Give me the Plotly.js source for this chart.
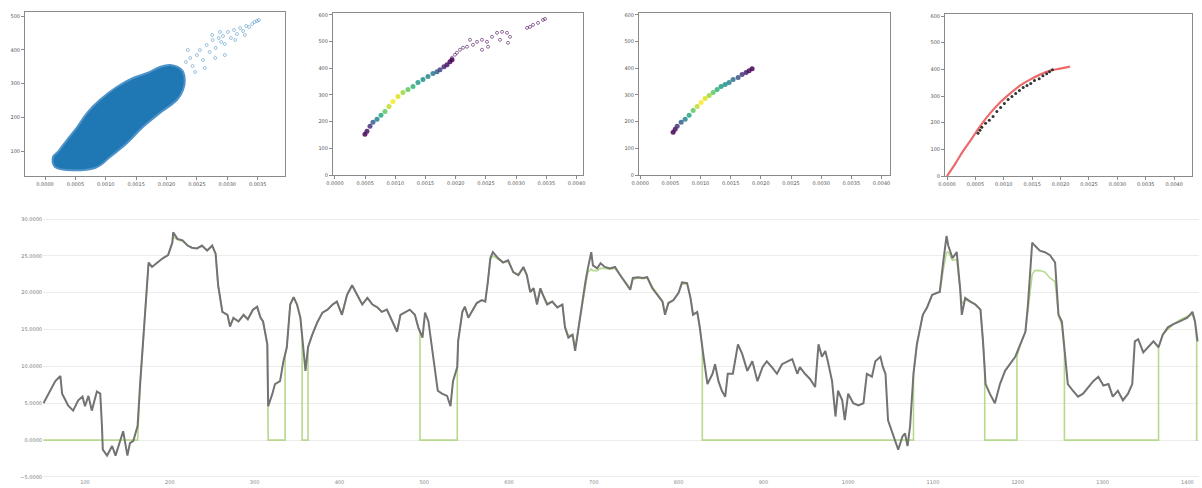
<!DOCTYPE html>
<html>
<head>
<meta charset="utf-8">
<script src="https://cdn.plot.ly/plotly-3.0.1.min.js"></script>
<style>html,body{margin:0;padding:0;background:#fff;}#chart{width:1202px;height:488px;}</style>
</head>
<body>
<div id="chart"></div>
<script>
// ---------- Panel 1: dense scatter (outline of the dense cloud + sparse outliers) ----------
const cloudX = [0.000164,0.000822,0.00107,0.00135,0.00161,0.00189,0.00217,0.00227,0.00230,0.00225,0.00206,0.00189,0.00168,0.00145,0.00118,0.00090,0.00069,0.00053,0.00036,0.00021,0.00013,0.000164];
const cloudY = [52.6,49.6,82.2,123.7,171.1,212.6,251.1,280.7,310.4,340.0,354.8,348.9,331.1,316.3,289.6,251.1,212.6,171.1,132.6,97.0,82.2,52.6];
const sparseX = [0.00232,0.00239,0.00243,0.00250,0.00255,0.00260,0.00266,0.00271,0.00276,0.00281,0.00286,0.00290,0.00293,0.00296,0.00301,0.00306,0.00311,0.00316,0.00321,0.00326,0.00331,0.00336,0.00341,0.00345,0.00349,0.00352,0.00263,0.00247,0.00280,0.00296,0.00275,0.00222,0.00235,0.00288,0.00329,0.00313];
const sparseY = [363.7,375.6,351.9,384.4,399.3,369.6,414.1,393.3,428.9,405.2,434.8,423.0,440.7,417.0,452.6,434.8,458.5,446.7,464.4,455.6,470.4,467.4,476.3,482.2,485.2,488.2,345.9,334.1,375.6,384.4,443.7,325.2,399.3,452.6,443.7,428.9];

// ---------- Panel 2: colour-coded curve + scattered tail ----------
const p2X = [0.000497,0.000530,0.000580,0.000629,0.000696,0.000762,0.000828,0.000894,0.000960,0.001043,0.001126,0.001209,0.001292,0.001374,0.001457,0.001540,0.001623,0.001689,0.001739,0.001805,0.001855,0.001904,0.001938];
const p2Y = [152.8,164.0,182.6,197.5,208.7,223.6,238.5,257.2,275.8,294.4,309.3,320.5,331.7,346.6,357.8,369.0,380.2,387.6,395.1,406.2,413.7,424.9,432.3];
const p2C = [0.0,0.05,0.15,0.3,0.45,0.6,0.75,0.9,1.0,0.95,0.85,0.75,0.65,0.55,0.5,0.45,0.4,0.3,0.2,0.1,0.05,0.02,0.0];
const p2TailX = [0.001938,0.001987,0.002070,0.002186,0.002285,0.002236,0.002352,0.002434,0.002517,0.002600,0.002683,0.002766,0.002848,0.002898,0.002732,0.002865,0.003180,0.003279,0.003362,0.003444,0.003478,0.003229,0.002534,0.002434,0.002020,0.002120];
const p2TailY = [439.8,451.0,469.6,480.8,488.2,506.9,499.4,506.9,499.4,518.1,533.0,536.7,533.0,518.1,506.9,495.7,551.6,562.8,570.2,581.4,585.1,555.3,480.8,469.6,458.4,477.1];

// ---------- Panel 3: filtered curve ----------
const p3X = [0.000546,0.000580,0.000613,0.000679,0.000745,0.000811,0.000878,0.000944,0.001010,0.001076,0.001143,0.001209,0.001275,0.001341,0.001408,0.001474,0.001540,0.001623,0.001689,0.001755,0.001805,0.001855];
const p3Y = [160.3,171.4,182.6,197.5,208.7,223.6,242.3,257.2,272.1,287.0,298.2,309.3,320.5,331.7,339.2,346.6,357.8,365.2,376.4,383.9,391.3,398.8];
const p3C = [0.0,0.05,0.15,0.3,0.45,0.6,0.75,0.9,1.0,0.95,0.85,0.75,0.65,0.55,0.5,0.45,0.35,0.25,0.15,0.08,0.03,0.0];

// ---------- Panel 4: fitted curve ----------
const fitX = [0,0.000141,0.000282,0.000440,0.000581,0.000757,0.000933,0.001109,0.001286,0.001462,0.001638,0.001814,0.001990,0.002166];
const fitY = [0,44.7,93.2,141.6,186.4,234.8,275.8,309.3,339.2,361.5,380.2,395.1,402.5,410.0];

// ---------- Bottom: time series ----------
const seriesT = [
51,59,65,71,73,77,80,86,92,97,100,104,
108,114,118,120,121,126,132,136,142,145,150,153,
157,162,165,169,173,175,179,185,192,198,203,204,
209,215,221,226,232,238,244,250,254,257,262,268,
271,275,281,287,292,298,303,307,310,315,316,321,
324,330,334,338,342,346,350,354,357,360,363,368,
374,380,386,392,397,403,409,415,421,427,433,439,
445,450,456,462,468,472,478,483,489,493,498,501,
505,509,513,516,521,527,531,534,539,540,545,548,
552,557,562,568,572,575,578,581,587,593,599,605,
611,617,621,625,629,633,637,640,645,651,657,663,
666,670,675,678,682,686,690,693,697,699,704,708,
713,719,725,731,737,743,746,752,758,763,769,775,
781,784,788,794,800,804,810,814,817,822,825,829,
834,840,843,847,851,855,858,864,870,875,881,887,
893,899,904,910,916,922,928,934,940,943,949,955,
961,965,969,973,976,981,985,988,993,996,1000,1006,
1012,1018,1022,1028,1032,1038,1041,1044,1047,1052,1055,1059,
1064,1067,1070,1073,1077,1081,1085,1088,1093,1099,1105,1108,
1112,1116,1118,1123,1128,1132,1134,1138,1144,1150,1156,1159,
1162,1167,1173,1179,1185,1191,1197,1203,1209,1212,1215,1217,
1220,1226,1232,1238,1244,1248,1252,1256,1259,1265,1271,1277,
1283,1289,1295,1301,1307,1312,1318,1324,1330,1335,1338,1342,
1348,1354,1360,1366,1371,1377,1383,1391,1400,1406,1409,1412];
const seriesV = [
5.0,6.7,8.0,8.7,6.3,5.4,4.7,4.0,5.4,5.9,4.6,6.0,
4.0,6.6,6.3,1.9,-1.3,-2.1,-0.8,-2.1,-0.1,1.2,-2.1,-0.4,
-0.1,1.9,7.6,14.3,20.6,24.1,23.5,24.1,24.7,25.1,26.8,28.2,
27.3,27.1,26.4,26.1,26.0,26.4,25.7,26.4,25.3,21.0,17.4,17.0,
15.4,16.6,16.1,17.0,16.4,17.7,18.1,16.6,16.1,13.0,4.6,6.3,
7.6,8.0,10.7,12.6,18.4,19.4,18.4,16.6,12.6,9.4,12.6,14.3,
16.0,17.3,17.7,18.4,18.8,17.0,19.7,21.0,19.7,18.4,19.3,18.4,
18.0,17.4,17.7,16.1,14.7,17.0,17.4,17.7,17.0,15.3,13.9,17.3,
16.1,12.6,9.0,6.7,6.3,6.0,4.6,8.0,9.9,13.4,17.4,18.1,
16.6,17.7,18.6,19.0,18.8,21.4,24.7,25.5,24.7,24.1,24.4,22.8,
22.4,23.5,22.4,20.1,20.6,18.4,20.6,19.7,18.4,18.8,18.0,18.4,
15.3,13.9,14.3,12.1,15.3,18.4,21.4,23.3,25.5,23.7,23.3,24.0,
23.5,23.3,23.5,22.4,21.4,20.4,22.0,22.1,22.0,22.1,20.6,19.7,
18.8,17.0,18.6,19.0,20.0,21.4,21.3,19.3,17.0,17.4,15.3,11.7,
7.6,9.0,10.3,8.0,6.7,5.9,9.0,9.0,13.0,11.7,9.4,10.7,
8.0,9.9,10.7,9.9,9.0,10.3,10.6,11.0,9.0,9.9,9.0,8.3,
7.2,13.0,11.3,12.1,10.7,8.0,3.2,6.7,5.4,2.7,6.3,5.0,
4.7,5.0,9.0,8.6,10.7,11.3,9.9,9.0,2.7,0.9,0.0,-1.3,
0.5,0.9,-0.8,1.9,9.0,13.0,15.3,17.0,18.0,19.7,20.0,20.1,
24.1,27.7,26.4,24.7,25.5,20.6,17.0,19.3,18.8,18.4,17.7,13.4,
7.6,6.3,5.0,7.6,9.4,10.3,11.3,13.0,14.7,18.4,22.8,26.8,
26.4,25.7,25.5,25.1,24.1,17.0,16.1,11.7,7.6,6.7,5.9,6.3,
7.2,8.0,8.6,7.4,7.6,5.9,6.7,5.4,6.3,7.6,13.4,13.7,
11.9,12.6,13.4,12.6,14.3,15.3,15.7,16.1,16.6,17.4,16.1,13.4];

// gated / filtered series (green)
const stateT = [
51,162,
162,165,169,173,175,179,185,192,198,203,204,209,215,221,226,232,238,244,250,254,257,262,268,271,275,281,287,292,298,303,307,310,315,
316,336,
336,338,342,346,350,354,356,
356,363,
363,368,374,380,386,392,397,403,409,415,421,427,433,439,445,450,456,462,468,472,478,483,489,493,495,
495,539,
539,540,545,548,552,557,562,568,572,575,578,581,587,593,599,605,611,617,621,625,629,633,637,640,645,651,657,663,666,670,675,678,682,686,690,693,697,699,704,708,713,719,725,731,737,743,746,752,758,763,769,775,781,784,788,794,800,804,810,814,817,822,825,828,
828,1077,
1077,1081,1085,1088,1093,1099,1105,1108,1112,1116,1118,1123,1128,1132,1134,1138,1144,1150,1156,1159,1161,
1161,1199,
1199,1203,1209,1212,1215,1217,1220,1226,1232,1238,1244,1248,1252,1255,
1255,1366,
1366,1371,1377,1383,1391,1400,1406,1409,1411,
1411,1412];
const stateV = [
0,0,
0,7.6,14.3,20.6,24.1,23.5,24.1,24.7,25.1,26.8,27.6,27.2,27.0,26.4,26.1,26.0,26.3,25.8,26.3,25.3,21.0,17.4,17.0,15.6,16.5,16.1,16.9,16.4,17.6,18.0,16.7,16.1,13.0,
0,0,
11.5,12.6,18.4,19.4,18.4,16.6,14.0,
0,0,
12.6,14.3,16.0,17.3,17.7,18.4,18.8,17.0,19.7,21.0,19.7,18.4,19.3,18.4,18.0,17.4,17.7,16.1,14.7,17.0,17.4,17.7,17.0,15.3,14.5,
0,0,
9.9,13.4,17.4,18.1,16.6,17.7,18.6,19.0,18.8,21.4,24.5,25.0,24.5,24.1,24.2,22.8,22.4,23.3,22.4,20.1,20.6,18.6,20.4,19.7,18.6,18.8,18.0,18.4,15.5,14.2,14.3,12.5,15.3,18.2,21.2,22.8,23.2,23.0,23.0,23.3,23.3,23.2,23.3,22.4,21.5,20.6,21.8,22.0,21.9,22.0,20.8,19.8,18.9,17.3,18.6,19.0,20.0,21.2,21.2,19.4,17.2,17.3,15.3,12.5,
0,0,
9.0,13.0,15.3,17.0,18.0,19.7,20.0,20.1,23.0,25.5,25.5,24.4,24.5,20.8,18.5,19.0,18.8,18.4,17.7,13.4,10.0,
0,0,
11.3,13.0,14.7,17.5,20.5,22.5,23.0,23.0,22.8,22.0,21.5,17.0,15.5,12.0,
0,0,
12.6,14.3,15.0,15.7,16.3,16.8,17.0,16.1,13.5,
0,0];

const smallFont = {family: 'DejaVu Sans', size: 5, color: '#555'};
function topAxis(extra) {
  return Object.assign({
    showline: true, mirror: true, linecolor: '#8a8a8a', linewidth: 1,
    ticks: 'outside', ticklen: 3, tickcolor: '#8a8a8a', tickwidth: 1,
    showgrid: false, zeroline: false, tickfont: smallFont, fixedrange: true
  }, extra);
}

const traces = [
  {x: cloudX, y: cloudY, xaxis: 'x', yaxis: 'y', type: 'scatter', mode: 'lines', fill: 'toself',
   fillcolor: '#1f77b4', line: {color: '#4f93c8', width: 2, shape: 'spline'}, hoverinfo: 'skip'},
  {x: sparseX, y: sparseY, xaxis: 'x', yaxis: 'y', type: 'scatter', mode: 'markers',
   marker: {symbol: 'circle-open', size: 3, color: 'rgba(31,119,180,0.6)', line: {width: 0.7}}},

  {x: p2X, y: p2Y, xaxis: 'x2', yaxis: 'y2', type: 'scatter', mode: 'markers',
   marker: {size: 5, color: p2C, colorscale: 'Viridis', cmin: 0, cmax: 1, opacity: 0.85, line: {width: 0}}},
  {x: p2TailX, y: p2TailY, xaxis: 'x2', yaxis: 'y2', type: 'scatter', mode: 'markers',
   marker: {symbol: 'circle-open', size: 3, color: 'rgba(68,1,84,0.7)', line: {width: 0.8}}},

  {x: p3X, y: p3Y, xaxis: 'x3', yaxis: 'y3', type: 'scatter', mode: 'markers',
   marker: {size: 5, color: p3C, colorscale: 'Viridis', cmin: 0, cmax: 1, opacity: 0.85, line: {width: 0}}},

  {x: fitX, y: fitY, xaxis: 'x4', yaxis: 'y4', type: 'scatter', mode: 'lines',
   line: {color: '#ec6a6a', width: 2.2, shape: 'spline'}},
  {x: p3X, y: p3Y, xaxis: 'x4', yaxis: 'y4', type: 'scatter', mode: 'markers',
   marker: {size: 3, color: '#333', line: {width: 0}}},

  {x: stateT, y: stateV, xaxis: 'x5', yaxis: 'y5', type: 'scatter', mode: 'lines',
   line: {color: '#b6d98f', width: 1.6}},
  {x: seriesT, y: seriesV, xaxis: 'x5', yaxis: 'y5', type: 'scatter', mode: 'lines',
   line: {color: '#737373', width: 2}}
];

const layout = {
  width: 1202, height: 488,
  margin: {l: 0, r: 0, t: 0, b: 0},
  paper_bgcolor: '#ffffff', plot_bgcolor: '#ffffff',
  showlegend: false,
  font: {family: 'DejaVu Sans'},
  xaxis:  topAxis({domain: [0.0208, 0.2371], range: [-0.00033, 0.00395], dtick: 0.0005, tick0: 0, tickformat: '.4f', anchor: 'y'}),
  yaxis:  topAxis({domain: [0.6393, 0.9754], range: [25.9, 511.9], dtick: 100, tick0: 0, anchor: 'x'}),
  xaxis2: topAxis({domain: [0.2770, 0.4850], range: [-0.000033, 0.004106], dtick: 0.0005, tick0: 0, tickformat: '.4f', anchor: 'y2'}),
  yaxis2: topAxis({domain: [0.6414, 0.9734], range: [0, 607.5], dtick: 100, tick0: 0, anchor: 'x2'}),
  xaxis3: topAxis({domain: [0.5316, 0.7404], range: [-0.00002, 0.00414], dtick: 0.0005, tick0: 0, tickformat: '.4f', anchor: 'y3'}),
  yaxis3: topAxis({domain: [0.6414, 0.9734], range: [0, 607.5], dtick: 100, tick0: 0, anchor: 'x3'}),
  xaxis4: topAxis({domain: [0.7862, 0.9917], range: [-0.000035, 0.004314], dtick: 0.0005, tick0: 0, tickformat: '.4f', anchor: 'y4'}),
  yaxis4: topAxis({domain: [0.6393, 0.9713], range: [0, 607.5], dtick: 100, tick0: 0, anchor: 'x4'}),
  xaxis5: {domain: [0.0358, 0.9975], range: [50.5, 1413.7], dtick: 100, tick0: 0, anchor: 'y5',
           showgrid: false, zeroline: false, showline: false, ticks: '',
           tickfont: {family: 'DejaVu Sans', size: 5, color: '#888'}, fixedrange: true},
  yaxis5: {domain: [0.0205, 0.5799], range: [-5.14, 31.9], dtick: 5, tick0: 0, anchor: 'x5',
           tickformat: '.4f', showgrid: true, gridcolor: '#ececec', gridwidth: 1,
           zeroline: false, showline: false, ticks: '',
           tickfont: {family: 'DejaVu Sans', size: 5, color: '#777'}, fixedrange: true}
};

Plotly.newPlot('chart', traces, layout, {displayModeBar: false, staticPlot: true});
</script>
</body>
</html>
